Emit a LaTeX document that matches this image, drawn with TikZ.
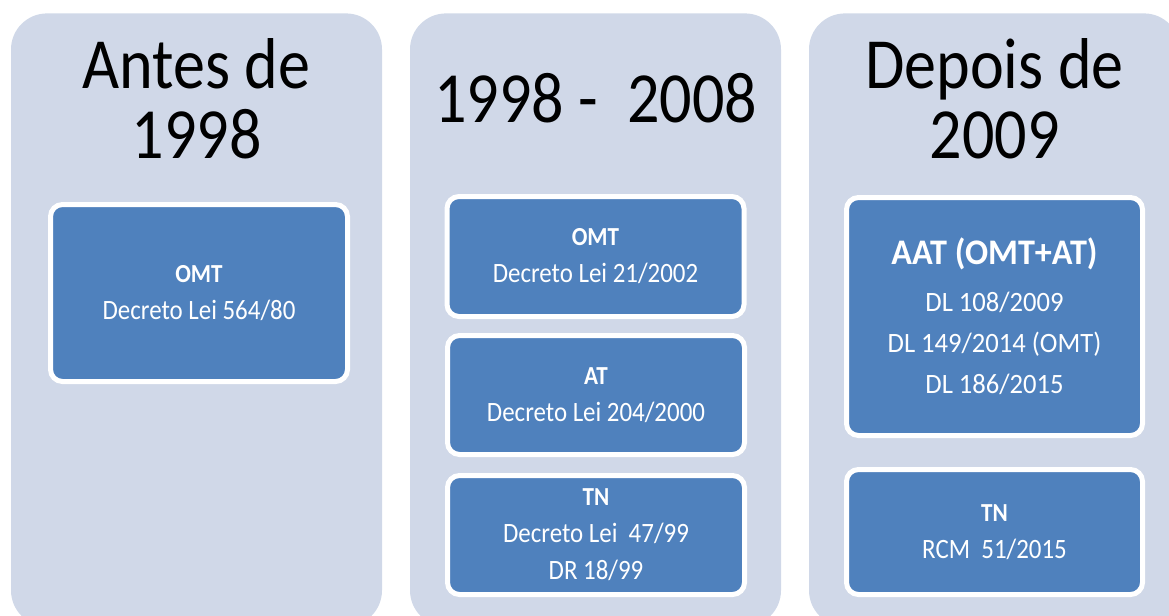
\documentclass[tikz,border=0pt]{standalone}
\usepackage{fontspec}
\setmainfont[FakeStretch=0.89]{Carlito}
\newfontfamily\dlfont[FakeStretch=0.95]{Carlito}
\definecolor{panelgray}{HTML}{D0D8E8}
\definecolor{lawblue}{HTML}{4F81BD}
\newcommand{\lawhead}[1]{{\bfseries\fontsize{13pt}{18.5pt}\selectfont #1}}
\tikzset{
  column/.style = {shape=rectangle, rounded corners=18pt, fill=panelgray,
                   minimum width=185.5pt, minimum height=306.5pt,
                   anchor=north, inner sep=0pt},
  period/.style = {align=center, anchor=base, inner sep=0pt,
                   font=\fontsize{36pt}{35pt}\selectfont},
  lawbox/.style = {shape=rectangle, rounded corners=6pt,
                   draw=white, line width=2.5pt, fill=lawblue,
                   text=white, align=center, minimum width=148.5pt,
                   font=\fontsize{14pt}{18.5pt}\selectfont},
  bigbox/.style = {lawbox, font=\dlfont\fontsize{14pt}{20.5pt}\selectfont}
}
\begin{document}
\begin{tikzpicture}
    [
      x = 0.5pt,
      y = -0.5pt
    ]
    \clip (0,0) rectangle (1169,616);
    \node [column] (before) at (196.5,13) {};
    \node [column] (middle) at (595.5,13) {};
    \node [column] (after)  at (994.5,13) {};

    \node [period] (tbefore) at (196.5,158) {Antes de\\1998};
    \node [period] (tmiddle) at (595.5,122) {1998 -\ \ 2008};
    \node [period] (tafter)  at (994.5,158) {Depois de\\2009};

    \node [lawbox, minimum height=88.5pt] (omtold) at (199,293)
          {\lawhead{OMT}\\Decreto Lei 564/80};

    \node [lawbox, minimum height=60pt] (omt) at (595.5,256.5)
          {\lawhead{OMT}\\Decreto Lei 21/2002};
    \node [lawbox, minimum height=59.5pt] (at) at (596,395)
          {\lawhead{AT}\\Decreto Lei 204/2000};
    \node [lawbox, minimum height=59.5pt] (tn) at (596,535)
          {\lawhead{TN}\\Decreto Lei\ \ 47/99\\DR 18/99};

    \node [bigbox, minimum height=119pt, minimum width=148pt] (aat) at (994.5,316.5)
          {{\bfseries\fontsize{18pt}{20.5pt}\selectfont AAT (OMT+AT)}\\[3pt]
           DL 108/2009\\DL 149/2014 (OMT)\\DL 186/2015};
    \node [lawbox, minimum height=62.5pt, minimum width=148pt] (tnnew) at (994.5,532)
          {\lawhead{TN}\\RCM\ \ 51/2015};
\end{tikzpicture}
\end{document}
